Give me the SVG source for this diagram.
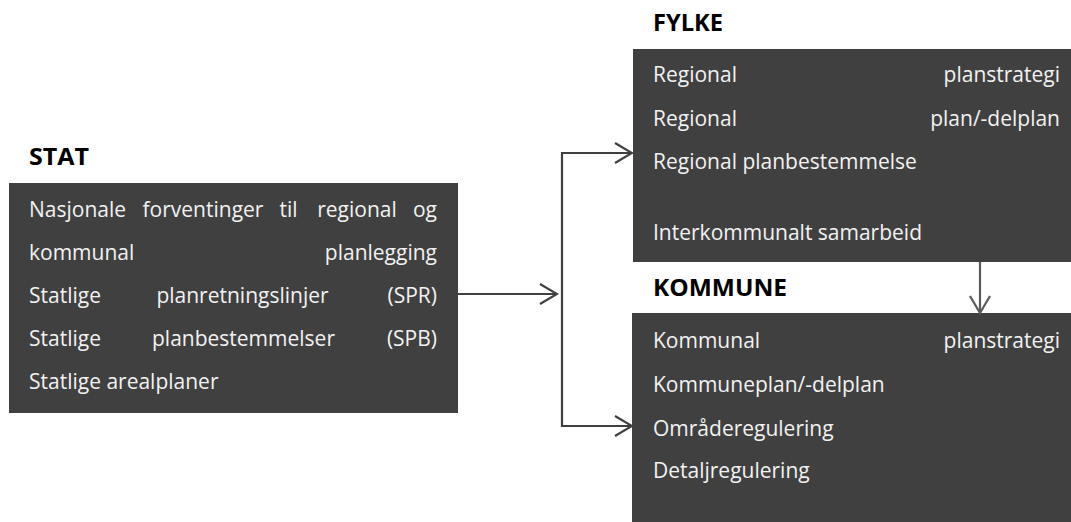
<svg xmlns="http://www.w3.org/2000/svg" width="1071" height="522" viewBox="0 0 1071 522">
  <style>
    .box { fill: #404040; }
    .title { font-family: "Open Sans", "Liberation Sans", sans-serif; font-weight: bold; font-size: 24px; fill: #000000; }
    .item { font-family: "Open Sans", "Liberation Sans", sans-serif; font-size: 21px; fill: #f2f2f2; }
    .end { text-anchor: end; }
    .mid { text-anchor: middle; }
    .link { fill: none; stroke: #404040; stroke-width: 2.2; }
    .link2 { fill: none; stroke: #5a5a5a; stroke-width: 2.2; }
  </style>
  <defs>
    <marker id="chev" viewBox="-20 -12 22 24" markerWidth="22" markerHeight="24" refX="0" refY="0" markerUnits="userSpaceOnUse" orient="auto">
      <path d="M-17,-10 L0,0 L-17,10" fill="none" stroke="#404040" stroke-width="2.2"/>
    </marker>
    <marker id="chev2" viewBox="-20 -12 22 24" markerWidth="22" markerHeight="24" refX="0" refY="0" markerUnits="userSpaceOnUse" orient="auto">
      <path d="M-17,-10 L0,0 L-17,10" fill="none" stroke="#5a5a5a" stroke-width="2.2"/>
    </marker>
  </defs>

  <!-- State level -->
  <g id="stat">
    <text class="title" x="29" y="165" textLength="60" lengthAdjust="spacingAndGlyphs">STAT</text>
    <rect class="box" x="9" y="183" width="449" height="230"/>
    <text class="item" x="29" y="217">Nasjonale</text>
    <text class="item mid" x="203" y="217">forventinger</text>
    <text class="item mid" x="288.5" y="217">til</text>
    <text class="item mid" x="357" y="217">regional</text>
    <text class="item end" x="437" y="217">og</text>
    <text class="item" x="29" y="260">kommunal</text>
    <text class="item end" x="437" y="260">planlegging</text>
    <text class="item" x="29" y="303">Statlige</text>
    <text class="item mid" x="242.5" y="303">planretningslinjer</text>
    <text class="item end" x="437" y="303">(SPR)</text>
    <text class="item" x="29" y="346">Statlige</text>
    <text class="item mid" x="243.5" y="346">planbestemmelser</text>
    <text class="item end" x="437" y="346">(SPB)</text>
    <text class="item" x="29" y="389">Statlige arealplaner</text>
  </g>

  <!-- County level -->
  <g id="fylke">
    <text class="title" x="653" y="31" textLength="70" lengthAdjust="spacingAndGlyphs">FYLKE</text>
    <rect class="box" x="633" y="49" width="438" height="213"/>
    <text class="item" x="653" y="82">Regional</text>
    <text class="item end" x="1060" y="82">planstrategi</text>
    <text class="item" x="653" y="126">Regional</text>
    <text class="item end" x="1060" y="126">plan/-delplan</text>
    <text class="item" x="653" y="169">Regional planbestemmelse</text>
    <text class="item" x="653" y="240">Interkommunalt samarbeid</text>
  </g>

  <!-- Municipal level -->
  <g id="kommune">
    <text class="title" x="653" y="296" textLength="134" lengthAdjust="spacingAndGlyphs">KOMMUNE</text>
    <rect class="box" x="632" y="313" width="439" height="209"/>
    <text class="item" x="653" y="348">Kommunal</text>
    <text class="item end" x="1060" y="348">planstrategi</text>
    <text class="item" x="653" y="392">Kommuneplan/-delplan</text>
    <text class="item" x="653" y="436">Områderegulering</text>
    <text class="item" x="653" y="478">Detaljregulering</text>
  </g>

  <!-- Connectors -->
  <g id="connectors">
    <path class="link" d="M458,294 H557" marker-end="url(#chev)"/>
    <path class="link" d="M562,294 V153 H632" marker-end="url(#chev)"/>
    <path class="link" d="M562,294 V426 H632" marker-end="url(#chev)"/>
    <path class="link2" d="M980,262 V313" marker-end="url(#chev2)"/>
  </g>
</svg>
